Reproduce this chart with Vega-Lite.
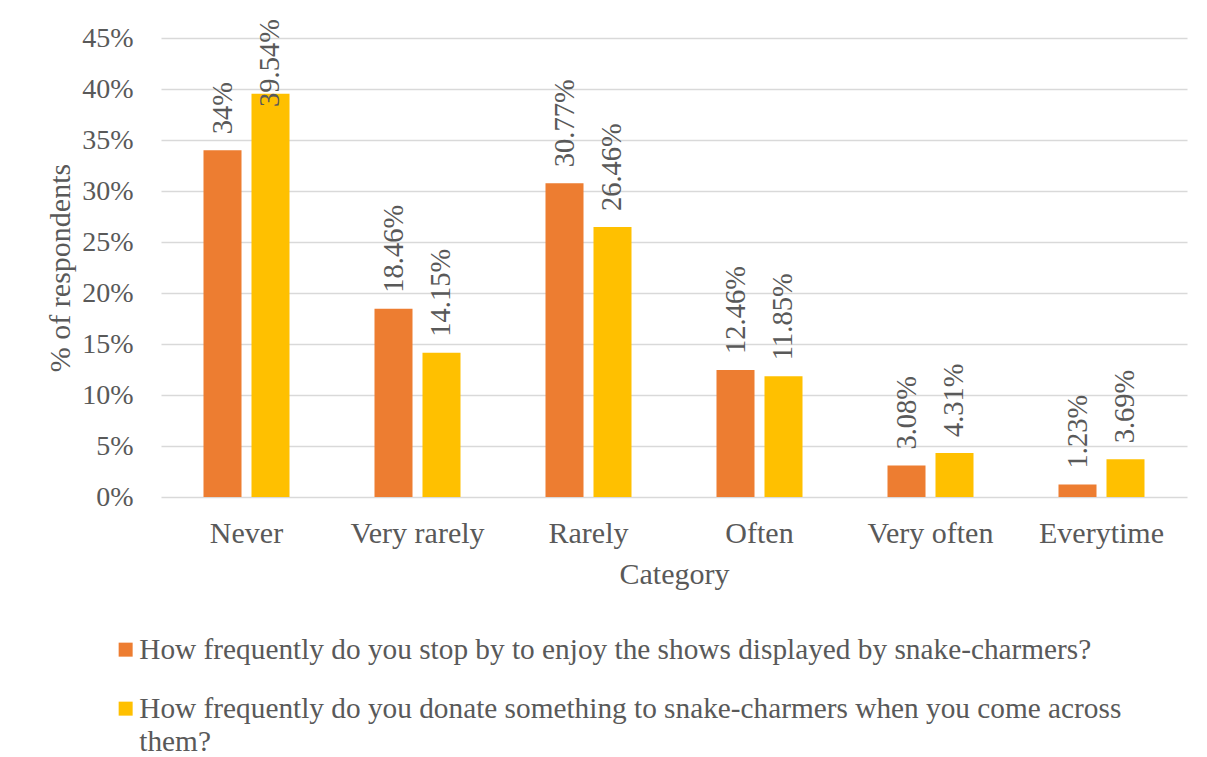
{
  "$schema": "https://vega.github.io/schema/vega-lite/v6.json",
  "width": 1026,
  "height": 459,
  "autosize": {"type": "none"},
  "padding": {"left": 161, "top": 38, "right": 20, "bottom": 260},
  "background": "white",
  "data": {
    "values": [
      {"category": "Never", "question": "How frequently do you stop by to enjoy the shows displayed by snake-charmers?", "value": 0.34, "label": "34%"},
      {"category": "Never", "question": "How frequently do you donate something to snake-charmers when you come across them?", "value": 0.3954, "label": "39.54%"},
      {"category": "Very rarely", "question": "How frequently do you stop by to enjoy the shows displayed by snake-charmers?", "value": 0.1846, "label": "18.46%"},
      {"category": "Very rarely", "question": "How frequently do you donate something to snake-charmers when you come across them?", "value": 0.1415, "label": "14.15%"},
      {"category": "Rarely", "question": "How frequently do you stop by to enjoy the shows displayed by snake-charmers?", "value": 0.3077, "label": "30.77%"},
      {"category": "Rarely", "question": "How frequently do you donate something to snake-charmers when you come across them?", "value": 0.2646, "label": "26.46%"},
      {"category": "Often", "question": "How frequently do you stop by to enjoy the shows displayed by snake-charmers?", "value": 0.1246, "label": "12.46%"},
      {"category": "Often", "question": "How frequently do you donate something to snake-charmers when you come across them?", "value": 0.1185, "label": "11.85%"},
      {"category": "Very often", "question": "How frequently do you stop by to enjoy the shows displayed by snake-charmers?", "value": 0.0308, "label": "3.08%"},
      {"category": "Very often", "question": "How frequently do you donate something to snake-charmers when you come across them?", "value": 0.0431, "label": "4.31%"},
      {"category": "Everytime", "question": "How frequently do you stop by to enjoy the shows displayed by snake-charmers?", "value": 0.0123, "label": "1.23%"},
      {"category": "Everytime", "question": "How frequently do you donate something to snake-charmers when you come across them?", "value": 0.0369, "label": "3.69%"}
    ]
  },
  "encoding": {
    "x": {
      "field": "category",
      "type": "nominal",
      "sort": ["Never", "Very rarely", "Rarely", "Often", "Very often", "Everytime"],
      "scale": {"paddingInner": 0.497, "paddingOuter": 0.2485},
      "axis": {
        "title": "Category",
        "labelAngle": 0,
        "labelFontSize": 30,
        "labelPadding": 21,
        "labelBaseline": "top",
        "domain": false,
        "ticks": false,
        "tickSize": 0,
        "titleY": 86,
        "titleBaseline": "alphabetic"
      }
    },
    "xOffset": {
      "field": "question",
      "type": "nominal",
      "sort": [
        "How frequently do you stop by to enjoy the shows displayed by snake-charmers?",
        "How frequently do you donate something to snake-charmers when you come across them?"
      ],
      "scale": {"paddingInner": 0.208, "paddingOuter": 0}
    }
  },
  "layer": [
    {
      "mark": {"type": "bar"},
      "encoding": {
        "y": {
          "field": "value",
          "type": "quantitative",
          "scale": {"domain": [0, 0.45], "nice": false},
          "axis": {
            "title": "% of respondents",
            "values": [0, 0.05, 0.1, 0.15, 0.2, 0.25, 0.3, 0.35, 0.4, 0.45],
            "format": ".0%",
            "grid": true,
            "domain": false,
            "ticks": false,
            "tickSize": 0,
            "labelFontSize": 28,
            "labelPadding": 28,
            "titleAngle": 270,
            "titleX": -101,
            "titleY": 229.5,
            "titleAlign": "center",
            "titleBaseline": "middle"
          }
        },
        "color": {
          "field": "question",
          "type": "nominal",
          "sort": [
            "How frequently do you stop by to enjoy the shows displayed by snake-charmers?",
            "How frequently do you donate something to snake-charmers when you come across them?"
          ],
          "scale": {"range": ["#ED7D31", "#FFC000"]},
          "legend": {
            "title": null,
            "orient": "none",
            "legendX": -50,
            "legendY": 597,
            "direction": "vertical",
            "padding": 0,
            "symbolType": "square",
            "symbolSize": 196,
            "symbolStrokeWidth": 0,
            "labelOffset": -1,
            "rowPadding": 29,
            "labelLimit": 1100,
            "labelExpr": "length(datum.label) > 80 ? [substring(datum.label, 0, lastindexof(substring(datum.label, 0, 80), ' ')), substring(datum.label, lastindexof(substring(datum.label, 0, 80), ' ') + 1)] : datum.label"
          }
        }
      }
    },
    {
      "transform": [{"calculate": "min(datum.value, 0.3667)", "as": "labelPos"}],
      "mark": {
        "type": "text",
        "angle": -90,
        "align": "left",
        "baseline": "middle",
        "dx": 16,
        "font": "Liberation Serif",
        "fontSize": 28.5,
        "color": "#595959"
      },
      "encoding": {
        "y": {"field": "labelPos", "type": "quantitative"},
        "text": {"field": "label"}
      }
    }
  ],
  "config": {
    "view": {"stroke": null},
    "font": "Liberation Serif",
    "axis": {
      "labelFont": "Liberation Serif",
      "labelColor": "#595959",
      "titleFont": "Liberation Serif",
      "titleFontSize": 30,
      "titleFontWeight": "normal",
      "titleColor": "#595959",
      "gridColor": "#D9D9D9",
      "gridWidth": 1.5
    },
    "legend": {
      "labelFont": "Liberation Serif",
      "labelFontSize": 29.3,
      "labelColor": "#595959"
    },
    "style": {
      "guide-label": {"lineHeight": 33}
    }
  }
}
